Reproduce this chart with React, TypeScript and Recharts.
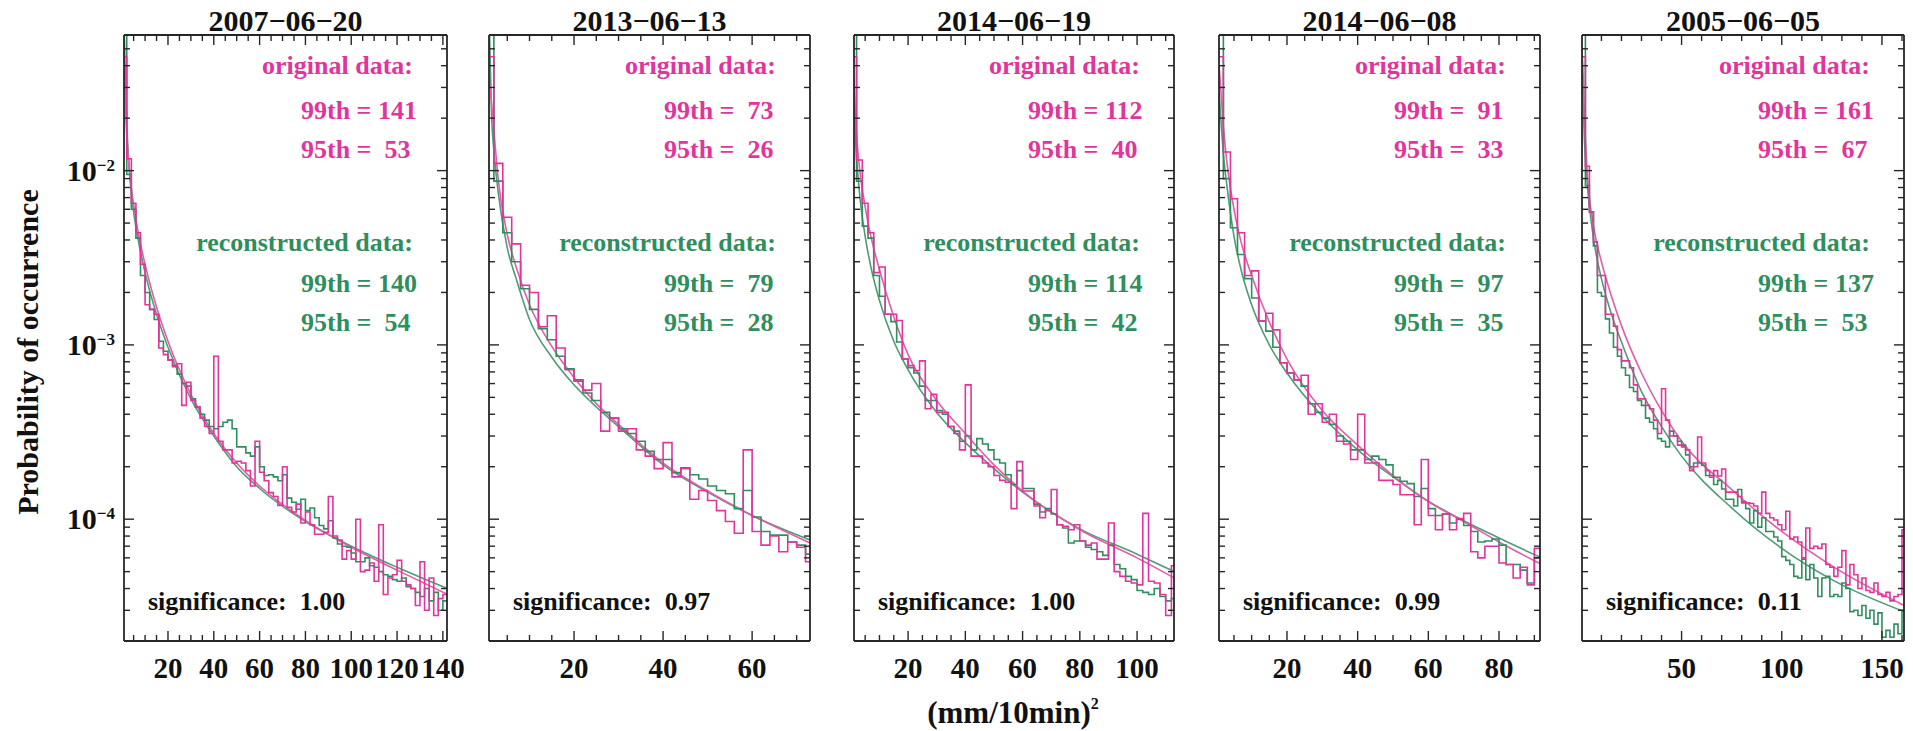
import { LineChart, Line, XAxis, YAxis } from "recharts"

const MAGENTA = "#E0359C"
const GREEN = "#2F8E5E"
const MAGENTA_FIT = "#E45CAA"
const GREEN_FIT = "#4F9C75"
const FRAME = "#262626"
const INK = "#111"
const FONT = "Liberation Serif, Times New Roman, serif"

const BIN = 2
const Y_DOMAIN = [2e-5, 0.06]

const titles = ["2007−06−20", "2013−06−13", "2014−06−19", "2014−06−08", "2005−06−05"]
const orig99 = [141, 73, 112, 91, 161]
const orig95 = [53, 26, 40, 33, 67]
const recon99 = [140, 79, 114, 97, 137]
const recon95 = [54, 28, 42, 35, 53]
const significance = ["1.00", "0.97", "1.00", "0.99", "0.11"]

const yTicks = [
  3e-5, 4e-5, 5e-5, 6e-5, 7e-5, 8e-5, 9e-5,
  1e-4, 2e-4, 3e-4, 4e-4, 5e-4, 6e-4, 7e-4, 8e-4, 9e-4,
  1e-3, 2e-3, 3e-3, 4e-3, 5e-3, 6e-3, 7e-3, 8e-3, 9e-3,
  1e-2, 2e-2, 3e-2, 4e-2, 5e-2,
]
const yMajors = [1e-4, 1e-3, 1e-2]
const yExponents = ["−4", "−3", "−2"]

const xTicks1 = [5, 10, 15, 20, 25, 30, 35, 40, 45, 50, 55, 60, 65, 70, 75, 80, 85, 90, 95, 100, 105, 110, 115, 120, 125, 130, 135, 140]
const xMajors1 = [20, 40, 60, 80, 100, 120, 140]
const xTicks2 = [5, 10, 15, 20, 25, 30, 35, 40, 45, 50, 55, 60, 65, 70]
const xMajors2 = [20, 40, 60]
const xTicks3 = [5, 10, 15, 20, 25, 30, 35, 40, 45, 50, 55, 60, 65, 70, 75, 80, 85, 90, 95, 100, 105, 110]
const xMajors3 = [20, 40, 60, 80, 100]
const xTicks4 = [5, 10, 15, 20, 25, 30, 35, 40, 45, 50, 55, 60, 65, 70, 75, 80, 85, 90]
const xMajors4 = [20, 40, 60, 80]
const xTicks5 = [10, 20, 30, 40, 50, 60, 70, 80, 90, 100, 110, 120, 130, 140, 150, 160]
const xMajors5 = [50, 100, 150]

// histogram bins of width 2 starting at 0: [0,2], [2,4], ...
const orig1 = [
  0.045, 0.0117, 0.0065, 0.0044, 0.0029, 0.0017, 0.0016, 0.0015, 0.00096, 0.00088,
  0.00082, 0.00075, 0.00078, 0.00045, 0.00061, 0.00048, 0.00044, 0.00038, 0.00034, 0.00031,
  0.00086, 0.00028, 0.00025, 0.00025, 0.00021, 0.000215, 0.00021, 0.00019, 0.000155, 0.00028,
  0.000186, 0.000166, 0.000142, 0.000135, 0.00012, 0.0002, 0.000117, 0.00011, 0.000122, 0.000095,
  0.00011, 0.000093, 0.000082, 0.000082, 0.000084, 0.000135, 0.00008, 0.000076, 0.000059, 0.000066,
  0.000059, 0.0001, 0.00005, 0.000051, 0.000056, 0.000044, 0.000093, 0.000037, 0.000046, 0.000048,
  0.000058, 0.000044, 0.000042, 0.00004, 0.000032, 0.000057, 0.00003, 0.000046, 0.000028, 0.000035,
  0.000037,
]
const recon1 = [
  0.09, 0.0095, 0.006, 0.0041, 0.0025, 0.002, 0.0016, 0.0014, 0.00105, 0.00092,
  0.00082, 0.00076, 0.00068, 0.0006, 0.00058, 0.00049, 0.00044, 0.0004, 0.00037, 0.00034,
  0.00033, 0.00034, 0.00036, 0.00037, 0.00033, 0.00026, 0.00026, 0.00024, 0.00023, 0.00026,
  0.0002, 0.000178, 0.00018, 0.000175, 0.000166, 0.00018, 0.000132, 0.000125, 0.000114, 0.00013,
  0.000112, 0.000116, 0.000102, 0.000092, 0.000088, 0.000098, 0.000078, 0.000072, 0.00007, 0.000069,
  0.000064, 0.000057, 0.000057, 0.00006, 0.000054, 0.000053, 0.00005, 0.000048, 0.000047, 0.000045,
  0.000044, 0.000046, 0.000041, 0.00004, 0.000038, 0.000036, 0.00004, 0.000034, 0.000038, 0.00003,
  0.000034,
]
const orig2 = [
  0.045, 0.011, 0.0054, 0.0038, 0.0022, 0.002, 0.00127, 0.00147, 0.00096, 0.00072,
  0.00062, 0.00055, 0.0006, 0.00032, 0.00038, 0.00032, 0.00033, 0.00025, 0.00023, 0.000195,
  0.000275, 0.000175, 0.000195, 0.00013, 0.000146, 0.000128, 0.000112, 0.000097, 0.000083, 0.00025,
  0.000085, 0.000071, 0.00008, 0.000065, 0.000074, 0.000069, 0.000057,
]
const recon2 = [
  0.09, 0.0087, 0.0044, 0.003, 0.0021, 0.0016, 0.00124, 0.00107, 0.00086, 0.00073,
  0.00063, 0.00053, 0.00048, 0.00041, 0.00038, 0.00033, 0.00031, 0.00028, 0.000245, 0.00022,
  0.00022, 0.000185, 0.000197, 0.00018, 0.00017, 0.000155, 0.000146, 0.00014, 0.000115, 0.000146,
  0.000103, 0.000085, 0.000081, 0.000081, 0.000074, 0.000071, 0.000063,
]
const orig3 = [
  0.045, 0.0115, 0.0065, 0.0044, 0.0026, 0.0028, 0.0015, 0.0015, 0.00138, 0.00083,
  0.00076, 0.00071, 0.00081, 0.00043, 0.00052, 0.00041, 0.00041, 0.00034, 0.00031, 0.00025,
  0.00059, 0.00023, 0.00023, 0.00021, 0.0002, 0.000178, 0.000167, 0.000163, 0.000115, 0.000214,
  0.000145, 0.000145, 0.000119, 0.000102, 0.000112, 0.000148, 0.000093, 0.000091, 0.000087, 0.000093,
  0.000075, 0.000071, 0.000073, 0.000059, 0.000059, 0.000095, 0.00005, 0.000047, 0.000044, 0.000043,
  0.000042, 0.000108, 0.000044, 0.000043, 0.000037, 0.000028, 0.000054,
]
const recon3 = [
  0.09, 0.0087, 0.0048, 0.0041, 0.0025, 0.0019, 0.0015, 0.00136, 0.00104, 0.00083,
  0.00074, 0.00069, 0.00058, 0.00048, 0.00048, 0.00042, 0.0004, 0.00034, 0.00032, 0.00028,
  0.0003, 0.00025, 0.00029, 0.00027, 0.00025, 0.00022, 0.00021, 0.00018, 0.000158, 0.00019,
  0.00015, 0.00015, 0.000122, 0.00011, 0.000115, 0.000107, 0.000093, 0.000089, 0.000073, 0.000075,
  0.000075, 0.000069, 0.000067, 0.000065, 0.000062, 0.000071, 0.000055, 0.000052, 0.000047, 0.000045,
  0.000039, 0.000038, 0.000037, 0.00004, 0.000036, 0.000034, 0.000035,
]
const orig4 = [
  0.045, 0.0128, 0.0069, 0.0044, 0.0025, 0.00266, 0.00137, 0.00152, 0.00122, 0.00079,
  0.00069, 0.00063, 0.00067, 0.0004, 0.00046, 0.00036, 0.0004, 0.00028, 0.00027, 0.00022,
  0.0004, 0.00021, 0.00021, 0.000167, 0.000167, 0.000158, 0.000138, 0.000138, 0.000093, 0.00022,
  0.000105, 0.000087, 0.000107, 0.000087, 0.000101, 0.000108, 0.000065, 0.00006, 0.00007, 0.00007,
  0.000056, 0.000055, 0.000046, 0.000053, 0.000042, 0.000068,
]
const recon4 = [
  0.09, 0.009, 0.0047, 0.0033, 0.0024, 0.00186, 0.00137, 0.0012, 0.00097, 0.00079,
  0.00069, 0.00063, 0.00058, 0.00046, 0.00041, 0.00038, 0.00035, 0.0003, 0.00028, 0.00025,
  0.00025, 0.00022, 0.00023, 0.00022, 0.000205, 0.000174, 0.000165, 0.00016, 0.000135, 0.00015,
  0.000115, 0.000105, 0.000107, 0.000095, 0.0001, 0.000092, 0.000085, 0.000074, 0.000075, 0.000077,
  0.000071, 0.000055, 0.000055, 0.000051, 0.000043, 0.00006,
]
const orig5 = [
  0.045, 0.0106, 0.0058, 0.0039, 0.0025, 0.0025, 0.0015, 0.0015, 0.00128, 0.00094,
  0.00081, 0.00081, 0.00074, 0.00059, 0.00049, 0.00049, 0.00045, 0.00043, 0.00037, 0.00031,
  0.00056, 0.00037, 0.0003, 0.0003, 0.000266, 0.00026, 0.00025, 0.00019, 0.0002, 0.000296,
  0.00021, 0.00019, 0.000174, 0.00019, 0.000177, 0.000194, 0.000143, 0.000143, 0.000143, 0.000135,
  0.000124, 0.000124, 0.000123, 0.000119, 0.000108, 0.000143, 0.000108, 0.000102, 0.000099, 0.000093,
  0.000087, 0.000111, 0.000077, 0.000079, 0.000074, 0.00006, 0.000089, 0.000068, 0.00007, 0.000068,
  0.000072, 0.000055, 0.000053, 0.000047, 0.000053, 0.000066, 0.000042, 0.000055, 0.000048, 0.00004,
  0.000046, 0.000039, 0.000038, 0.000043, 0.000037, 0.000036, 0.000038, 0.000034, 0.000036, 0.000037,
  0.000087,
]
const recon5 = [
  0.09, 0.0082, 0.0058, 0.0037, 0.002, 0.0019, 0.00141, 0.00117, 0.00097, 0.00086,
  0.00074, 0.00067, 0.00057, 0.00054, 0.00048, 0.00045, 0.00038, 0.00036, 0.00033, 0.00029,
  0.00028, 0.00026, 0.00032, 0.0003, 0.00028, 0.000266, 0.000234, 0.0002, 0.00021, 0.00021,
  0.000204, 0.000178, 0.000178, 0.000158, 0.000167, 0.000149, 0.00013, 0.00013, 0.000119, 0.000148,
  0.000126, 0.000115, 0.000095, 0.000112, 0.00009, 0.000102, 0.000085, 0.000085, 0.000079, 0.000075,
  0.000061, 0.000058, 0.000055, 0.000047, 0.000046, 0.000059, 0.000045, 0.000055, 0.000046, 0.000036,
  0.000046, 0.000047, 0.000036, 0.000037, 0.000036, 0.000043, 0.00004, 0.0000295, 0.00003, 0.000028,
  0.000032, 0.000027, 0.00003, 0.000025, 0.000029, 0.000021, 0.000023, 0.000021, 0.000025, 0.000022,
  0.00003,
]

const fitX1 = [0.8, 1.5, 2, 3, 4, 5, 7, 10, 15, 20, 30, 40, 50, 60, 80, 100, 120, 142]
const fitOrig1 = [0.04, 0.022, 0.016, 0.0105, 0.008, 0.0064, 0.0044, 0.0029, 0.00165, 0.00105, 0.00052, 0.00031, 0.00021, 0.000155, 0.0000985, 0.000069, 0.000051, 0.000037]
const fitRecon1 = [0.07, 0.03, 0.019, 0.0105, 0.0075, 0.0058, 0.004, 0.0026, 0.0015, 0.00097, 0.00049, 0.0003, 0.0002, 0.00015, 0.000097, 0.00007, 0.000053, 0.00004]
const fitX2 = [0.9, 1.5, 2, 3, 5, 7, 10, 15, 20, 25, 30, 40, 50, 60, 73]
const fitOrig2 = [0.034, 0.024, 0.017, 0.0088, 0.0043, 0.0028, 0.0017, 0.00098, 0.00065, 0.00046, 0.00035, 0.00021, 0.000145, 0.000105, 0.000073]
const fitRecon2 = [0.08, 0.02, 0.013, 0.0074, 0.0036, 0.0024, 0.0014, 0.00085, 0.00059, 0.00044, 0.00034, 0.000205, 0.000143, 0.000105, 0.000076]
const fitX3 = [1.1, 1.5, 2, 3, 5, 7, 10, 15, 20, 30, 40, 50, 60, 80, 100, 113]
const fitOrig3 = [0.034, 0.022, 0.016, 0.0105, 0.0062, 0.0042, 0.0027, 0.00145, 0.00088, 0.00048, 0.00031, 0.000205, 0.000145, 0.000087, 0.00006, 0.000046]
const fitRecon3 = [0.03, 0.017, 0.012, 0.0075, 0.0042, 0.0028, 0.0018, 0.00105, 0.00072, 0.00041, 0.000275, 0.000195, 0.000143, 0.000088, 0.000063, 0.00005]
const fitX4 = [0.8, 1.5, 2, 3, 5, 7, 10, 15, 20, 30, 40, 50, 60, 70, 80, 92]
const fitOrig4 = [0.04, 0.025, 0.018, 0.0112, 0.006, 0.0039, 0.0025, 0.00135, 0.00083, 0.00042, 0.000266, 0.000178, 0.000126, 0.000097, 0.000074, 0.000055]
const fitRecon4 = [0.028, 0.017, 0.0125, 0.0082, 0.0042, 0.0027, 0.0017, 0.001, 0.00069, 0.00039, 0.00025, 0.000175, 0.000127, 0.000098, 0.000078, 0.00006]
const fitX5 = [0.3, 1, 1.5, 2, 3, 5, 7, 10, 15, 20, 30, 40, 50, 75, 100, 125, 161]
const fitOrig5 = [0.05, 0.032, 0.02, 0.015, 0.0093, 0.0057, 0.0042, 0.003, 0.0019, 0.00129, 0.00069, 0.00042, 0.00028, 0.000148, 0.000085, 0.000054, 0.000032]
const fitRecon5 = [0.04, 0.023, 0.015, 0.012, 0.0082, 0.005, 0.0035, 0.0024, 0.0015, 0.00104, 0.00054, 0.00034, 0.00023, 0.000116, 0.000068, 0.000045, 0.0000295]

const panels = [
  { left: 124, width: 323, domain: [0.8, 141.8], ticks: xTicks1, majors: xMajors1, orig: orig1, recon: recon1, fx: fitX1, fo: fitOrig1, fr: fitRecon1 },
  { left: 489, width: 321, domain: [0.9, 73], ticks: xTicks2, majors: xMajors2, orig: orig2, recon: recon2, fx: fitX2, fo: fitOrig2, fr: fitRecon2 },
  { left: 854, width: 320, domain: [1.1, 112.9], ticks: xTicks3, majors: xMajors3, orig: orig3, recon: recon3, fx: fitX3, fo: fitOrig3, fr: fitRecon3 },
  { left: 1219, width: 321, domain: [0.76, 91.6], ticks: xTicks4, majors: xMajors4, orig: orig4, recon: recon4, fx: fitX4, fo: fitOrig4, fr: fitRecon4 },
  { left: 1582, width: 322, domain: [0.3, 161], ticks: xTicks5, majors: xMajors5, orig: orig5, recon: recon5, fx: fitX5, fo: fitOrig5, fr: fitRecon5 },
]

const PLOT_TOP = 35
const PLOT_H = 606
// outer space around each plot; the axes take 1px of it each
const PAD = { top: 12, right: 20, bottom: 60, left: 80 }
const MARGIN = { top: PAD.top - 1, right: PAD.right - 1, bottom: PAD.bottom - 1, left: PAD.left - 1 }

const histData = (m: number[], g: number[]) => {
  const pts = m.map((v, i) => ({ x: i * BIN, m: v, g: g[i] }))
  pts.push({ x: m.length * BIN, m: m[m.length - 1], g: g[g.length - 1] })
  return pts
}

const fitData = (xs: number[], m: number[], g: number[]) => xs.map((x, i) => ({ x, m: m[i], g: g[i] }))

const majorIndex = (v: number) => yMajors.findIndex((t) => Math.abs(t - v) / t < 1e-6)

function BottomTick(props: any) {
  const { x, y, payload, majors } = props
  const major = majors.includes(payload.value)
  return (
    <g>
      <line x1={x} x2={x} y1={y} y2={y - (major ? 10 : 6)} stroke={FRAME} strokeWidth={1.4} />
      {major && (
        <text x={x} y={y + 37} textAnchor="middle" fontSize={29} fontFamily={FONT} fontWeight={700} fill={INK}>
          {payload.value}
        </text>
      )}
    </g>
  )
}

function TopTick(props: any) {
  const { x, y, payload, majors } = props
  const major = majors.includes(payload.value)
  return <line x1={x} x2={x} y1={y} y2={y + (major ? 10 : 6)} stroke={FRAME} strokeWidth={1.4} />
}

function LeftTick(props: any) {
  const { x, y, payload, labels } = props
  const mi = majorIndex(payload.value)
  const major = mi >= 0
  return (
    <g>
      <line x1={x} x2={x + (major ? 10 : 6)} y1={y} y2={y} stroke={FRAME} strokeWidth={1.4} />
      {major && labels && (
        <text x={x - 9} y={y + 10} textAnchor="end" fontSize={30} fontFamily={FONT} fontWeight={700} fill={INK}>
          10
          <tspan dy={-10} fontSize={17}>
            {yExponents[mi]}
          </tspan>
        </text>
      )}
    </g>
  )
}

function RightTick(props: any) {
  const { x, y, payload } = props
  const major = majorIndex(payload.value) >= 0
  return <line x1={x} x2={x - (major ? 10 : 6)} y1={y} y2={y} stroke={FRAME} strokeWidth={1.4} />
}

function Panel({ p, index }: { p: (typeof panels)[number]; index: number }) {
  const hist = histData(p.orig, p.recon)
  const fit = fitData(p.fx, p.fo, p.fr)
  const axisLine = { stroke: FRAME, strokeWidth: 1.8 }
  return (
    <div style={{ position: "absolute", left: p.left - PAD.left, top: PLOT_TOP - PAD.top }}>
      <LineChart width={p.width + PAD.left + PAD.right} height={PLOT_H + PAD.top + PAD.bottom} margin={MARGIN}>
        <XAxis
          xAxisId="b"
          dataKey="x"
          type="number"
          domain={p.domain}
          allowDataOverflow
          ticks={p.ticks}
          interval={0}
          height={1}
          tickSize={0}
          tickMargin={0}
          tickLine={false}
          axisLine={axisLine}
          tick={(t: any) => <BottomTick {...t} majors={p.majors} />}
        />
        <XAxis
          xAxisId="t"
          orientation="top"
          dataKey="x"
          type="number"
          domain={p.domain}
          allowDataOverflow
          ticks={p.ticks}
          interval={0}
          height={1}
          tickSize={0}
          tickMargin={0}
          tickLine={false}
          axisLine={axisLine}
          tick={(t: any) => <TopTick {...t} majors={p.majors} />}
        />
        <YAxis
          yAxisId="l"
          type="number"
          scale="log"
          domain={Y_DOMAIN}
          allowDataOverflow
          ticks={yTicks}
          interval={0}
          width={1}
          tickSize={0}
          tickMargin={0}
          tickLine={false}
          axisLine={axisLine}
          tick={(t: any) => <LeftTick {...t} labels={index === 0} />}
        />
        <YAxis
          yAxisId="r"
          orientation="right"
          type="number"
          scale="log"
          domain={Y_DOMAIN}
          allowDataOverflow
          ticks={yTicks}
          interval={0}
          width={1}
          tickSize={0}
          tickMargin={0}
          tickLine={false}
          axisLine={axisLine}
          tick={(t: any) => <RightTick {...t} />}
        />
        <Line data={fit} xAxisId="t" yAxisId="r" dataKey="m" stroke="none" dot={false} activeDot={false} isAnimationActive={false} />
        <Line data={fit} xAxisId="b" yAxisId="l" dataKey="g" type="monotone" stroke={GREEN_FIT} strokeWidth={1.6} dot={false} activeDot={false} isAnimationActive={false} />
        <Line data={fit} xAxisId="b" yAxisId="l" dataKey="m" type="monotone" stroke={MAGENTA_FIT} strokeWidth={1.6} dot={false} activeDot={false} isAnimationActive={false} />
        <Line data={hist} xAxisId="b" yAxisId="l" dataKey="g" type="stepAfter" stroke={GREEN} strokeWidth={1.6} dot={false} activeDot={false} isAnimationActive={false} />
        <Line data={hist} xAxisId="b" yAxisId="l" dataKey="m" type="stepAfter" stroke={MAGENTA} strokeWidth={1.6} dot={false} activeDot={false} isAnimationActive={false} />
      </LineChart>
    </div>
  )
}

const Label = (props: any) => (
  <text fontFamily={FONT} fontWeight={700} xmlSpace="preserve" style={{ whiteSpace: "pre" }} {...props} />
)

export default function App() {
  return (
    <div style={{ position: "absolute", left: 0, top: 0, width: 1913, height: 731, background: "#fff", overflow: "hidden" }}>
      {panels.map((p, i) => (
        <Panel key={i} p={p} index={i} />
      ))}
      <svg width={1913} height={731} style={{ position: "absolute", left: 0, top: 0, pointerEvents: "none" }}>
        <Label transform="rotate(-90)" x={-352} y={38} textAnchor="middle" fontSize={30} fill={INK}>
          Probability of occurrence
        </Label>
        <Label x={1013} y={723} textAnchor="middle" fontSize={31} fill={INK}>
          (mm/10min)
          <tspan dy={-14} fontSize={16}>
            2
          </tspan>
        </Label>
        {panels.map((p, i) => {
          const right = p.left + p.width
          const vx = right - 146
          return (
            <g key={i}>
              <Label x={p.left + p.width / 2} y={31} textAnchor="middle" fontSize={30} fill={INK}>
                {titles[i]}
              </Label>
              <Label x={right - 34} y={74} textAnchor="end" fontSize={26} fill={MAGENTA}>
                original data:
              </Label>
              <Label x={vx} y={119} fontSize={26} fill={MAGENTA}>
                {`99th = ${String(orig99[i]).padStart(3, " ")}`}
              </Label>
              <Label x={vx} y={158} fontSize={26} fill={MAGENTA}>
                {`95th = ${String(orig95[i]).padStart(3, " ")}`}
              </Label>
              <Label x={right - 34} y={251} textAnchor="end" fontSize={26} fill={GREEN}>
                reconstructed data:
              </Label>
              <Label x={vx} y={292} fontSize={26} fill={GREEN}>
                {`99th = ${String(recon99[i]).padStart(3, " ")}`}
              </Label>
              <Label x={vx} y={331} fontSize={26} fill={GREEN}>
                {`95th = ${String(recon95[i]).padStart(3, " ")}`}
              </Label>
              <Label x={p.left + 24} y={610} fontSize={26} fill={INK}>
                {`significance:  ${significance[i]}`}
              </Label>
            </g>
          )
        })}
      </svg>
    </div>
  )
}
